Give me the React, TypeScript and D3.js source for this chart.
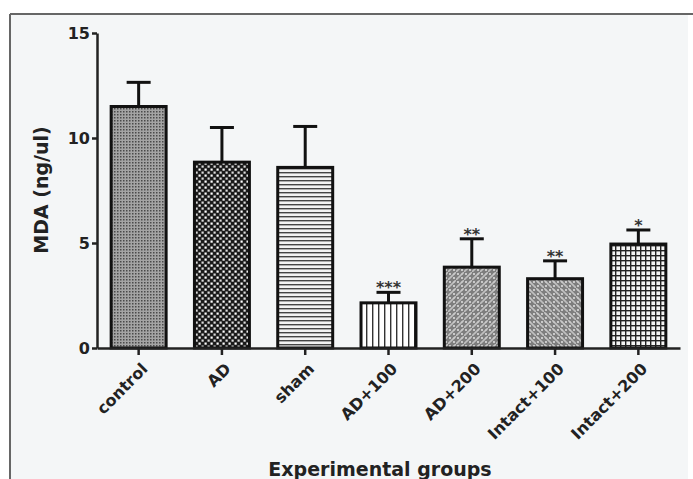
import * as d3 from "d3";
import { useEffect, useRef } from "react";

// chart values
const groups = ["control", "AD", "sham", "AD+100", "AD+200", "Intact+100", "Intact+200"];
const means = [11.5, 8.85, 8.6, 2.15, 3.85, 3.3, 4.95];
const sems = [1.15, 1.65, 1.95, 0.5, 1.35, 0.85, 0.67];
const stars = ["", "", "", "***", "**", "**", "*"];
const patternIds = ["pControl", "pAD", "pSham", "pAD100", "pAD200", "pInt100", "pInt200"];
const yTicks = [0, 5, 10, 15];

const font = "'DejaVu Sans', 'Liberation Sans', Arial, sans-serif";

export default function App() {
  const width = 693;
  const height = 479;
  const xAxisRef = useRef<SVGGElement>(null);
  const yAxisRef = useRef<SVGGElement>(null);

  const x = d3.scaleBand<string>().domain(groups).range([97, 680]).paddingInner(0.34).paddingOuter(0.17);
  const y = d3.scaleLinear().domain([0, 15]).range([348, 33]);

  function drawAxes() {
    const gy = d3.select(yAxisRef.current);
    gy.selectAll("*").remove();
    gy.call(d3.axisLeft(y).tickValues(yTicks).tickSize(5).tickSizeOuter(0).tickPadding(2));
    gy.select(".domain").attr("stroke", "#222").attr("stroke-width", 2.5);
    gy.selectAll(".tick line").attr("stroke", "#222").attr("stroke-width", 2.5);
    gy.selectAll(".tick text")
      .attr("fill", "#222")
      .style("font-family", font)
      .style("font-weight", "bold")
      .style("font-size", "16px");

    const gx = d3.select(xAxisRef.current);
    gx.selectAll("*").remove();
    gx.call(d3.axisBottom(x).tickSize(7).tickSizeOuter(0));
    gx.select(".domain").attr("stroke", "#222").attr("stroke-width", 2.5);
    gx.selectAll(".tick line").attr("stroke", "#222").attr("stroke-width", 2.5);
    gx.selectAll(".tick text")
      .attr("fill", "#222")
      .attr("text-anchor", "end")
      .attr("dy", "0.35em")
      .attr("y", 0)
      .attr("transform", "translate(6,18) rotate(-45)")
      .style("font-family", font)
      .style("font-weight", "bold")
      .style("font-size", "16px");
  }

  useEffect(drawAxes, []);

  return (
    <svg width={width} height={height} style={{ position: "absolute", left: 0, top: 0, background: "#fff" }}>
      <defs>
        {/* control: fine grey dots */}
        <pattern id="pControl" width="3" height="3" patternUnits="userSpaceOnUse">
          <rect width="3" height="3" fill="#a4a4a4" />
          <rect x="0" y="0" width="1.5" height="1.5" fill="#4a4a4a" />
        </pattern>
        {/* AD: white dots on black */}
        <pattern id="pAD" width="6" height="6" patternUnits="userSpaceOnUse">
          <rect width="6" height="6" fill="#1a1a1a" />
          <rect x="0.5" y="0.5" width="2.2" height="2.2" fill="#fff" />
          <rect x="3.5" y="3.5" width="2.2" height="2.2" fill="#ddd" />
        </pattern>
        {/* sham: horizontal lines */}
        <pattern id="pSham" width="6" height="4" patternUnits="userSpaceOnUse">
          <rect width="6" height="4" fill="#f2f2f2" />
          <rect y="0" width="6" height="1.4" fill="#444" />
        </pattern>
        {/* AD+100: vertical lines */}
        <pattern id="pAD100" width="6" height="6" patternUnits="userSpaceOnUse">
          <rect width="6" height="6" fill="#fff" />
          <rect x="0" width="1.4" height="6" fill="#333" />
        </pattern>
        {/* AD+200 / Intact+100: grey dots with diagonal streaks */}
        <pattern id="pAD200" width="8" height="8" patternUnits="userSpaceOnUse">
          <rect width="8" height="8" fill="#7e7e7e" />
          <path d="M0,8 L8,0" stroke="#c0c0c0" strokeWidth="1.6" />
          <circle cx="2" cy="2" r="0.9" fill="#eee" />
          <circle cx="6" cy="6" r="0.9" fill="#eee" />
          <circle cx="6" cy="2" r="0.7" fill="#ddd" />
        </pattern>
        <pattern id="pInt100" width="8" height="8" patternUnits="userSpaceOnUse">
          <rect width="8" height="8" fill="#7e7e7e" />
          <path d="M0,0 L8,8" stroke="#c0c0c0" strokeWidth="1.6" />
          <circle cx="2" cy="6" r="0.9" fill="#eee" />
          <circle cx="6" cy="2" r="0.9" fill="#eee" />
          <circle cx="2" cy="2" r="0.7" fill="#ddd" />
        </pattern>
        {/* Intact+200: grid */}
        <pattern id="pInt200" width="5" height="5" patternUnits="userSpaceOnUse">
          <rect width="5" height="5" fill="#f4f4f4" />
          <rect x="0" width="1.4" height="5" fill="#222" />
          <rect y="0" width="5" height="1.4" fill="#222" />
        </pattern>
      </defs>

      {/* panel background, border on top and left only */}
      <rect x={10} y={14} width={678} height={470} fill="#f4f6f7" />
      <line x1={10} x2={693} y1={14} y2={14} stroke="#666" strokeWidth={2} />
      <line x1={10} x2={10} y1={14} y2={479} stroke="#666" strokeWidth={2} />

      <g>
        {groups.map((g, i) => {
          const cx = (x(g) ?? 0) + x.bandwidth() / 2;
          const top = y(means[i] + sems[i]);
          return (
            <g key={g}>
              <line x1={cx} x2={cx} y1={y(means[i])} y2={top} stroke="#111" strokeWidth={3} />
              <line x1={cx - 12} x2={cx + 12} y1={top} y2={top} stroke="#111" strokeWidth={3} />
              <rect
                x={x(g)}
                y={y(means[i])}
                width={x.bandwidth()}
                height={y(0) - y(means[i])}
                fill={`url(#${patternIds[i]})`}
                stroke="#111"
                strokeWidth={3}
              />
              {stars[i] && (
                <text x={cx} y={top + 1} textAnchor="middle" fontFamily={font} fontWeight="bold" fontSize={16} fill="#333">
                  {stars[i]}
                </text>
              )}
            </g>
          );
        })}
      </g>

      <g ref={yAxisRef} transform="translate(97,0)" />
      <g ref={xAxisRef} transform="translate(0,348)" />

      <text transform="translate(48,190) rotate(-90)" textAnchor="middle" fontFamily={font} fontWeight="bold" fontSize={19} fill="#222">
        MDA (ng/ul)
      </text>
      <text x={380} y={476} textAnchor="middle" fontFamily={font} fontWeight="bold" fontSize={19} fill="#222">
        Experimental groups
      </text>
    </svg>
  );
}
